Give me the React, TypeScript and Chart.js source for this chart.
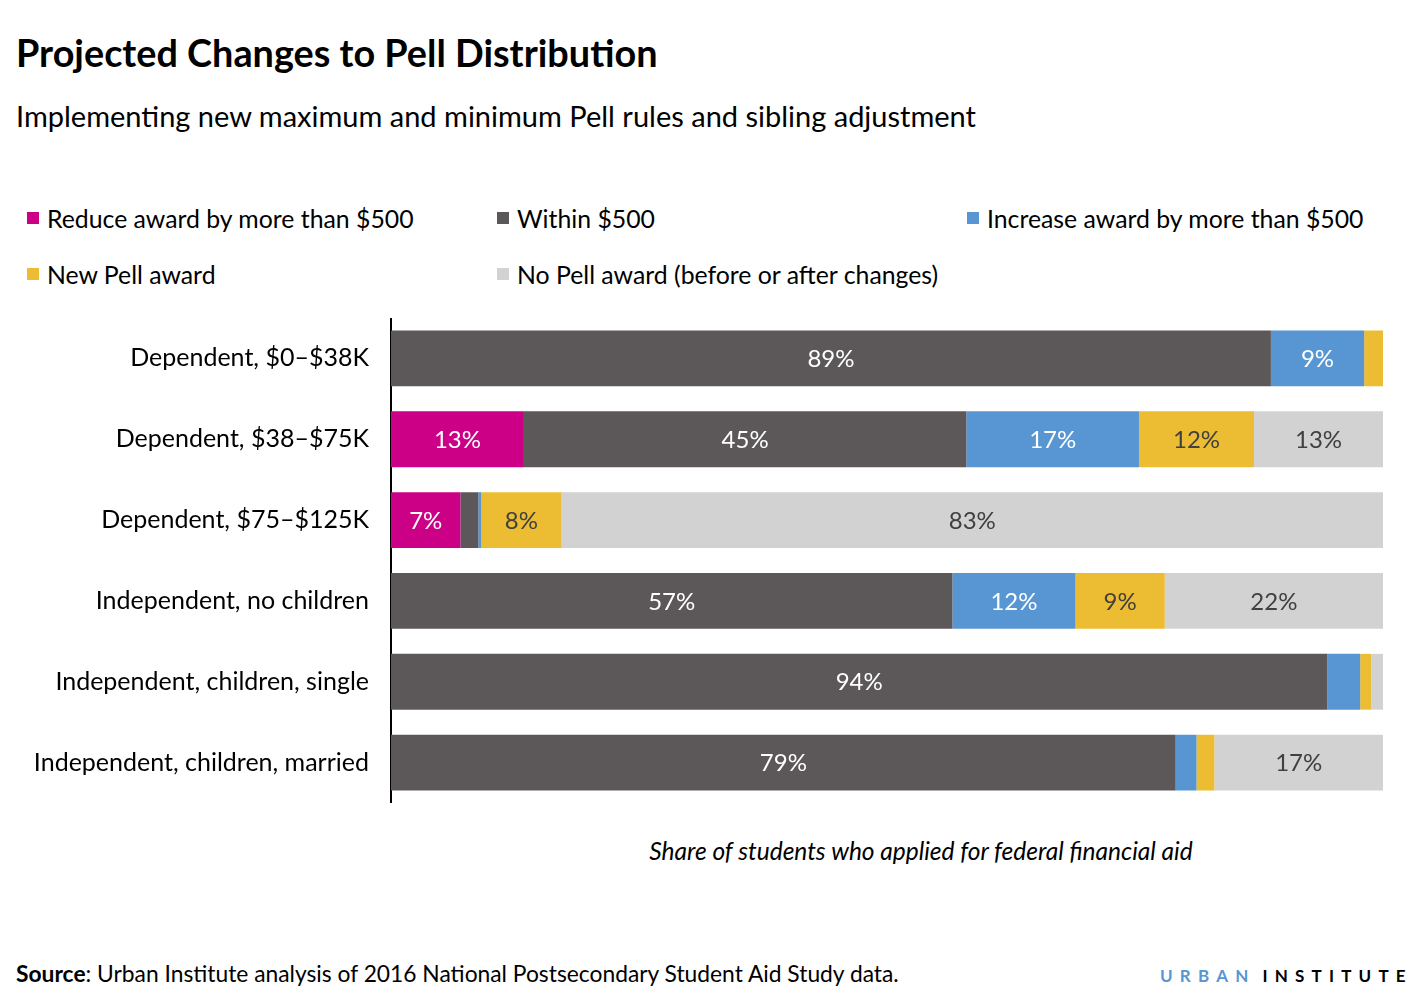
import React, { useEffect, useRef } from "react";
import { Chart, registerables } from "chart.js";

Chart.register(...registerables);

const categories = [
  "Dependent, $0–$38K",
  "Dependent, $38–$75K",
  "Dependent, $75–$125K",
  "Independent, no children",
  "Independent, children, single",
  "Independent, children, married",
];

const seriesNames = [
  "Reduce award by more than $500",
  "Within $500",
  "Increase award by more than $500",
  "New Pell award",
  "No Pell award (before or after changes)",
];

const reduceVals = [0, 13.4, 7.0, 0, 0, 0];
const withinVals = [88.7, 44.6, 1.8, 56.6, 94.4, 79.1];
const increaseVals = [9.4, 17.4, 0.3, 12.4, 3.3, 2.1];
const newPellVals = [1.9, 11.6, 8.1, 9.0, 1.1, 1.8];
const noPellVals = [0, 13.0, 82.8, 22.0, 1.2, 17.0];

const colors = ["#cb0086", "#5c5859", "#5796d2", "#ecbd32", "#d2d2d2"];
const labelColors = ["#ffffff", "#ffffff", "#ffffff", "#404040", "#404040"];

const FONT = "Lato, 'Noto Sans', sans-serif";

const labelPlugin = {
  id: "barLabels",
  afterDatasetsDraw(chart: any) {
    const ctx = chart.ctx;
    ctx.save();
    ctx.font = `24px ${FONT}`;
    ctx.textAlign = "center";
    ctx.textBaseline = "middle";
    chart.data.datasets.forEach((ds: any, di: number) => {
      const meta = chart.getDatasetMeta(di);
      meta.data.forEach((bar: any, i: number) => {
        const v = ds.data[i];
        if (v < 5) return;
        const { x, base, y } = bar.getProps(["x", "base", "y"], true);
        ctx.fillStyle = labelColors[di];
        ctx.fillText(Math.round(v) + "%", (x + base) / 2, y + 1);
      });
    });
    ctx.restore();
  },
};

export default function App() {
  const ref = useRef<HTMLCanvasElement>(null);
  useEffect(() => {
    document.body.style.margin = "0";
    const data = [reduceVals, withinVals, increaseVals, newPellVals, noPellVals];
    const chart = new Chart(ref.current!, {
      type: "bar",
      data: {
        labels: categories,
        datasets: seriesNames.map((name, i) => ({
          label: name,
          data: data[i],
          backgroundColor: colors[i],
          borderWidth: 0,
          barPercentage: 0.69,
          categoryPercentage: 1,
        })),
      },
      options: {
        indexAxis: "y",
        responsive: false,
        animation: false,
        maintainAspectRatio: false,
        layout: { padding: 0 },
        plugins: { legend: { display: false }, tooltip: { enabled: false }, title: { display: false } },
        scales: {
          x: { stacked: true, min: 0, max: 100, display: false },
          y: {
            stacked: true,
            grid: { display: false, drawTicks: false },
            border: { display: true, color: "#000", width: 2 },
            ticks: { color: "#000", font: { family: FONT, size: 25 }, padding: 22 },
            afterFit(scale: any) {
              scale.width = 391;
              scale.paddingTop = 0;
              scale.paddingBottom = 0;
            },
          },
        },
      },
      plugins: [labelPlugin],
    } as any);
    return () => chart.destroy();
  }, []);

  const legendPos = [
    [27, 218],
    [497, 218],
    [967, 218],
    [27, 274],
    [497, 274],
  ];

  return (
    <div style={{ position: "absolute", left: 0, top: 0, width: 1427, height: 995, background: "#fff", fontFamily: FONT, color: "#000", overflow: "hidden" }}>
      <div style={{ position: "absolute", left: 16, top: 30, fontSize: 37.8, fontWeight: 700, whiteSpace: "nowrap" }}>
        Projected Changes to Pell Distribution
      </div>
      <div style={{ position: "absolute", left: 16, top: 98, fontSize: 29, whiteSpace: "nowrap" }}>
        Implementing new maximum and minimum Pell rules and sibling adjustment
      </div>
      {seriesNames.map((n, i) => (
        <div key={n} style={{ position: "absolute", left: legendPos[i][0], top: legendPos[i][1] - 16, height: 32, display: "flex", alignItems: "center", fontSize: 24.8, whiteSpace: "nowrap" }}>
          <span style={{ display: "inline-block", width: 12, height: 12, background: colors[i], marginRight: 8 }} />
          {n}
        </div>
      ))}
      <canvas ref={ref} width={1383} height={485} style={{ position: "absolute", left: 0, top: 318, width: 1383, height: 485 }} />
      <div style={{ position: "absolute", left: 921, top: 836, transform: "translateX(-50%)", fontSize: 24.5, fontStyle: "italic", whiteSpace: "nowrap" }}>
        Share of students who applied for federal financial aid
      </div>
      <div style={{ position: "absolute", left: 16, top: 959, fontSize: 22.8, whiteSpace: "nowrap" }}>
        <b>Source</b>: Urban Institute analysis of 2016 National Postsecondary Student Aid Study data.
      </div>
      <div style={{ position: "absolute", left: 1160, top: 965, fontSize: 17, fontWeight: 700, letterSpacing: 7.2, whiteSpace: "nowrap" }}>
        <span style={{ color: "#5796d2" }}>URBAN</span><span style={{ color: "#000", marginLeft: 7 }}>INSTITUTE</span>
      </div>
    </div>
  );
}
